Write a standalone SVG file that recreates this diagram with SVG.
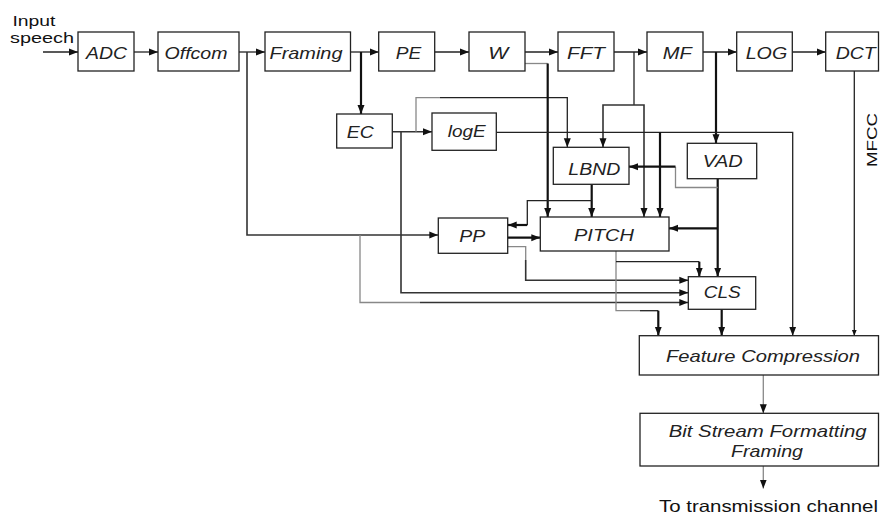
<svg xmlns="http://www.w3.org/2000/svg" width="880" height="515" viewBox="0 0 880 515">
<style>
.box{fill:#fff;stroke:#222;stroke-width:1.3}
.lbl{font-family:"Liberation Sans",Arial,sans-serif;font-style:italic;font-size:16.5px;fill:#222}
.pl{font-family:"Liberation Sans",Arial,sans-serif;font-size:16.5px;fill:#111}
.c{fill:none;stroke:#222;stroke-width:1.3}
.t{fill:none;stroke:#111;stroke-width:2.2}
.m{fill:none;stroke:#333;stroke-width:1.6}
.g{fill:none;stroke:#888;stroke-width:1.3}
</style>
<defs>
<marker id="a" markerUnits="userSpaceOnUse" markerWidth="9" markerHeight="8" refX="9" refY="4" orient="auto"><path d="M0,0.5 L9,4 L0,7.5 z" fill="#111"/></marker>
<marker id="s" markerUnits="userSpaceOnUse" markerWidth="6" markerHeight="6" refX="6" refY="3" orient="auto"><path d="M0,0.5 L6,3 L0,5.5 z" fill="#111"/></marker>
</defs>
<rect width="880" height="515" fill="#fff"/>
<g id="connectors">
<path class="c" d="M43,52 H78" marker-end="url(#a)"/>
<path class="c" d="M134,52 H158" marker-end="url(#a)"/>
<path class="c" d="M239,52 H265" marker-end="url(#a)"/>
<path class="c" d="M350.5,52 H378.7" marker-end="url(#a)"/>
<path class="c" d="M434.7,52 H469" marker-end="url(#a)"/>
<path class="c" d="M525,52 H558" marker-end="url(#a)"/>
<path class="c" d="M614,52 H647" marker-end="url(#a)"/>
<path class="c" d="M703,52 H736.7" marker-end="url(#a)"/>
<path class="c" d="M792.3,52 H825.7" marker-end="url(#a)"/>
<path class="m" d="M247,52 V235 H438.3" marker-end="url(#a)"/>
<path class="g" d="M360,235 V302.5 H420"/>
<path class="m" d="M420,302.5 H688.3" marker-end="url(#a)"/>
<path class="t" d="M361,52 V114" marker-end="url(#a)"/>
<path class="m" d="M392.3,131.7 H432" marker-end="url(#a)"/>
<path class="m" d="M401,131.7 V292.7 H688.3" marker-end="url(#a)"/>
<path class="g" d="M416,131.7 V97.7 H440"/>
<path class="c" d="M440,97.7 H567.3 V147.3" marker-end="url(#a)"/>
<path class="g" d="M525,63.5 H547.7"/>
<path class="t" d="M547.7,63.5 V217" marker-end="url(#a)"/>
<path class="c" d="M634,52 V105"/>
<path class="m" d="M634,105 H603 V147.3" marker-end="url(#a)"/>
<path class="m" d="M634,105 H644 V217" marker-end="url(#a)"/>
<path class="t" d="M716,52 V143.3" marker-end="url(#a)"/>
<path class="c" d="M854.3,71 V335.7" marker-end="url(#s)"/>
<path class="c" d="M496.3,132.3 H792.7 V335.7" marker-end="url(#a)"/>
<path class="t" d="M660,132.3 V217" marker-end="url(#a)"/>
<path class="t" d="M717.7,178.7 V276.7" marker-end="url(#a)"/>
<path class="t" d="M717.7,228.3 H669" marker-end="url(#a)"/>
<path class="g" d="M717.7,187.5 H675.5 V166.7"/>
<path class="t" d="M675.5,166.7 H629" marker-end="url(#a)"/>
<path class="t" d="M591.7,184.3 V217" marker-end="url(#a)"/>
<path class="c" d="M591.7,200.7 H527.3 V225"/>
<path class="t" d="M527.3,225 H507.7" marker-end="url(#a)"/>
<path class="t" d="M507.7,237.7 H540.3" marker-end="url(#a)"/>
<path class="g" d="M507.7,246.7 H525.7 V260"/>
<path class="m" d="M525.7,260 V280.3 H688.3" marker-end="url(#a)"/>
<path class="g" d="M616,251 V310.7 H640"/>
<path class="c" d="M640,310.7 H658.3"/>
<path class="t" d="M658.3,310.7 V335.7" marker-end="url(#a)"/>
<path class="c" d="M616,261.7 H699.3"/>
<path class="t" d="M699.3,261.7 V276.7" marker-end="url(#a)"/>
<path class="t" d="M721.7,309.3 V335.7" marker-end="url(#a)"/>
<path class="g" d="M763.3,375 V413.3" marker-end="url(#a)"/>
<path class="g" d="M763.3,466 V488.5" marker-end="url(#a)"/>
</g>
<g id="input-label">
<text class="pl" style="font-size:15px" x="12.5" y="26" textLength="43" lengthAdjust="spacingAndGlyphs">Input</text>
<text class="pl" style="font-size:15px" x="10" y="43" textLength="64" lengthAdjust="spacingAndGlyphs">speech</text>
</g>
<g id="adc"><rect class="box" x="78" y="32" width="56" height="39"/><text class="lbl" x="86" y="59" textLength="41" lengthAdjust="spacingAndGlyphs">ADC</text></g>
<g id="offcom"><rect class="box" x="158" y="32" width="81" height="39"/><text class="lbl" x="164.5" y="59" textLength="63" lengthAdjust="spacingAndGlyphs">Offcom</text></g>
<g id="framing"><rect class="box" x="265" y="32" width="85.5" height="39"/><text class="lbl" x="269.5" y="59" textLength="73" lengthAdjust="spacingAndGlyphs">Framing</text></g>
<g id="pe"><rect class="box" x="378.7" y="32" width="56" height="39"/><text class="lbl" x="395.7" y="59" textLength="25.5" lengthAdjust="spacingAndGlyphs">PE</text></g>
<g id="w"><rect class="box" x="469" y="32" width="56" height="39"/><text class="lbl" x="488.3" y="59" textLength="20" lengthAdjust="spacingAndGlyphs">W</text></g>
<g id="fft"><rect class="box" x="558" y="32" width="56" height="39"/><text class="lbl" x="567" y="59" textLength="38" lengthAdjust="spacingAndGlyphs">FFT</text></g>
<g id="mf"><rect class="box" x="647" y="32" width="56" height="39"/><text class="lbl" x="662.7" y="59" textLength="29" lengthAdjust="spacingAndGlyphs">MF</text></g>
<g id="log"><rect class="box" x="736.7" y="32" width="55.6" height="39"/><text class="lbl" x="745.7" y="59" textLength="41.5" lengthAdjust="spacingAndGlyphs">LOG</text></g>
<g id="dct"><rect class="box" x="825.7" y="32" width="52.8" height="39"/><text class="lbl" x="835.7" y="59" textLength="40" lengthAdjust="spacingAndGlyphs">DCT</text></g>
<g id="ec"><rect class="box" x="336.7" y="114" width="55.6" height="34"/><text class="lbl" x="346.7" y="137.7" textLength="27" lengthAdjust="spacingAndGlyphs">EC</text></g>
<g id="loge"><rect class="box" x="432" y="113" width="64.3" height="37.3"/><text class="lbl" x="447.7" y="136.7" textLength="38" lengthAdjust="spacingAndGlyphs">logE</text></g>
<g id="lbnd"><rect class="box" x="553.3" y="147.3" width="75.7" height="37"/><text class="lbl" x="568.3" y="174.7" textLength="52" lengthAdjust="spacingAndGlyphs">LBND</text></g>
<g id="vad"><rect class="box" x="687.3" y="143.3" width="69.4" height="35.4"/><text class="lbl" x="702.7" y="166.7" textLength="40" lengthAdjust="spacingAndGlyphs">VAD</text></g>
<g id="pp"><rect class="box" x="438.3" y="218" width="69.4" height="35.3"/><text class="lbl" x="459.3" y="241.7" textLength="26" lengthAdjust="spacingAndGlyphs">PP</text></g>
<g id="pitch"><rect class="box" x="540.3" y="217" width="128.7" height="34"/><text class="lbl" x="574" y="240.7" textLength="60" lengthAdjust="spacingAndGlyphs">PITCH</text></g>
<g id="cls"><rect class="box" x="688.3" y="276.7" width="67.4" height="32.6"/><text class="lbl" x="703.7" y="298.3" textLength="37" lengthAdjust="spacingAndGlyphs">CLS</text></g>
<g id="mfcc-label"><text class="pl" style="font-size:15px" transform="translate(877,167) rotate(-90)" x="0" y="0" textLength="54" lengthAdjust="spacingAndGlyphs">MFCC</text></g>
<g id="feature-compression"><rect class="box" x="639.3" y="335.7" width="239.2" height="39.3"/><text class="lbl" x="666" y="362.3" textLength="194" lengthAdjust="spacingAndGlyphs">Feature Compression</text></g>
<g id="bitstream"><rect class="box" x="640" y="413.3" width="238.5" height="52.7"/><text class="lbl" x="668.7" y="436.7" textLength="198" lengthAdjust="spacingAndGlyphs">Bit Stream Formatting</text><text class="lbl" x="731" y="457.3" textLength="72" lengthAdjust="spacingAndGlyphs">Framing</text></g>
<g id="output-label"><text class="pl" x="659" y="512" textLength="219" lengthAdjust="spacingAndGlyphs">To transmission channel</text></g>
</svg>
